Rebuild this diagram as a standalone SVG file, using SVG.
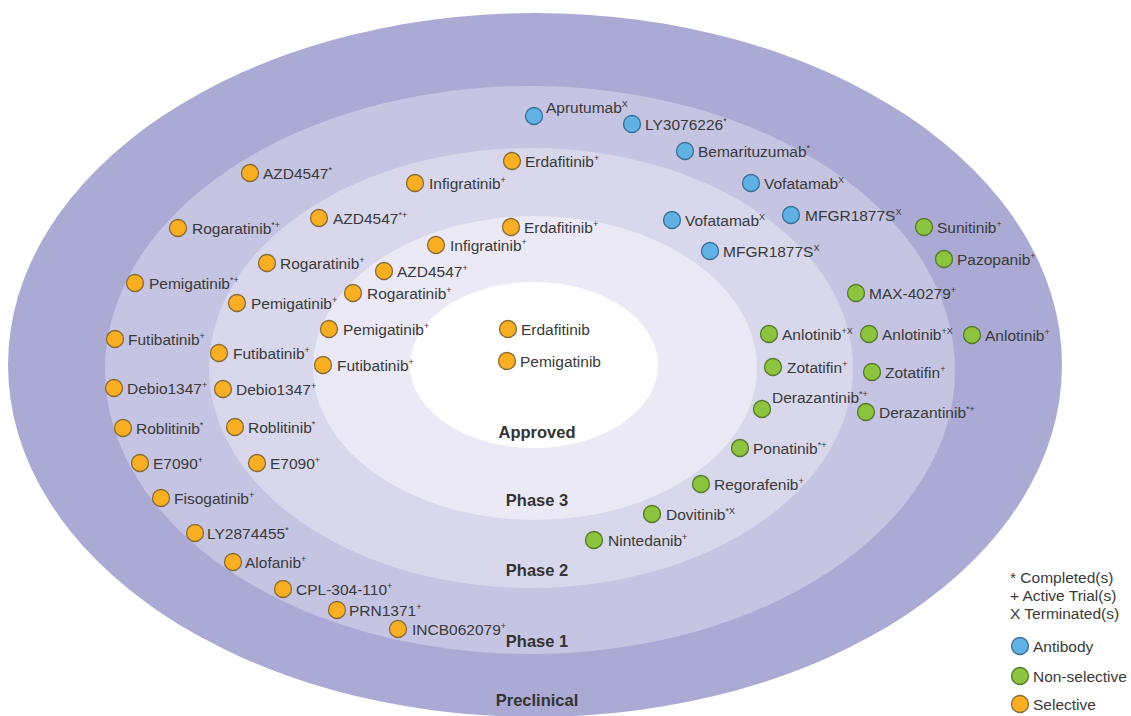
<svg xmlns="http://www.w3.org/2000/svg" width="1131" height="716" viewBox="0 0 1131 716">
  <style>
    text { font-family: "Liberation Sans", Arial, sans-serif; fill: #3a3a3a; }
    .lbl { font-size: 15.5px; }
    .sup { font-size: 9px; }
    .phase { font-size: 16.5px; font-weight: bold; fill: #333; text-anchor: middle; }
    .ab circle { fill: #5fb2e3; stroke: #3d6f98; stroke-width: 1.3; }
    .ns circle { fill: #8cc43f; stroke: #557a2b; stroke-width: 1.3; }
    .se circle { fill: #f9af24; stroke: #8a6b35; stroke-width: 1.3; }
  </style>

  <!-- Concentric development stages -->
  <g id="stages">
    <ellipse id="stage-preclinical" cx="535" cy="365" rx="527" ry="352" fill="#abaad5"/>
    <ellipse id="stage-phase1" cx="530" cy="370" rx="425" ry="284" fill="#c5c4e2"/>
    <ellipse id="stage-phase2" cx="531" cy="368" rx="322" ry="220" fill="#d8d7ec"/>
    <ellipse id="stage-phase3" cx="535" cy="368" rx="222" ry="152" fill="#eae9f5"/>
    <ellipse id="stage-approved" cx="534" cy="365" rx="124" ry="83" fill="#ffffff"/>
  </g>

  <!-- Stage labels -->
  <g id="stage-labels">
    <text class="phase" x="537" y="438">Approved</text>
    <text class="phase" x="537" y="506">Phase 3</text>
    <text class="phase" x="537" y="576">Phase 2</text>
    <text class="phase" x="537" y="647">Phase 1</text>
    <text class="phase" x="537" y="706">Preclinical</text>
  </g>

  <!-- Approved -->
  <g id="n-erdafitinib-approved" class="se"><circle cx="508" cy="329" r="8.5"/><text class="lbl" x="521" y="335">Erdafitinib</text></g>
  <g id="n-pemigatinib-approved" class="se"><circle cx="507" cy="361" r="8.5"/><text class="lbl" x="520" y="367">Pemigatinib</text></g>

  <!-- Phase 3 -->
  <g id="n-erdafitinib-p3" class="se"><circle cx="511" cy="227" r="8.5"/><text class="lbl" x="524" y="233">Erdafitinib<tspan class="sup" dy="-6">+</tspan></text></g>
  <g id="n-infigratinib-p3" class="se"><circle cx="436" cy="245" r="8.5"/><text class="lbl" x="450" y="251">Infigratinib<tspan class="sup" dy="-6">+</tspan></text></g>
  <g id="n-azd4547-p3" class="se"><circle cx="384" cy="271" r="8.5"/><text class="lbl" x="397" y="277">AZD4547<tspan class="sup" dy="-6">+</tspan></text></g>
  <g id="n-rogaratinib-p3" class="se"><circle cx="353" cy="293" r="8.5"/><text class="lbl" x="367" y="299">Rogaratinib<tspan class="sup" dy="-6">+</tspan></text></g>
  <g id="n-pemigatinib-p3" class="se"><circle cx="329" cy="329" r="8.5"/><text class="lbl" x="343" y="335">Pemigatinib<tspan class="sup" dy="-6">+</tspan></text></g>
  <g id="n-futibatinib-p3" class="se"><circle cx="323" cy="365" r="8.5"/><text class="lbl" x="337" y="371">Futibatinib<tspan class="sup" dy="-6">+</tspan></text></g>
  <g id="n-vofatamab-p3" class="ab"><circle cx="672" cy="220" r="8.5"/><text class="lbl" x="685" y="226">Vofatamab<tspan class="sup" dy="-6">X</tspan></text></g>
  <g id="n-mfgr1877s-p3" class="ab"><circle cx="710" cy="251" r="8.5"/><text class="lbl" x="723" y="257">MFGR1877S<tspan class="sup" dy="-6">X</tspan></text></g>
  <g id="n-anlotinib-p3" class="ns"><circle cx="769" cy="334" r="8.5"/><text class="lbl" x="782" y="340">Anlotinib<tspan class="sup" dy="-6">+X</tspan></text></g>
  <g id="n-zotatifin-p3" class="ns"><circle cx="773" cy="367" r="8.5"/><text class="lbl" x="787" y="373">Zotatifin<tspan class="sup" dy="-6">+</tspan></text></g>
  <g id="n-derazantinib-p3" class="ns"><circle cx="762" cy="409" r="8.5"/><text class="lbl" x="772" y="403">Derazantinib<tspan class="sup" dy="-6">*+</tspan></text></g>
  <g id="n-ponatinib-p3" class="ns"><circle cx="740" cy="448" r="8.5"/><text class="lbl" x="753" y="454">Ponatinib<tspan class="sup" dy="-6">*+</tspan></text></g>
  <g id="n-regorafenib-p3" class="ns"><circle cx="701" cy="484" r="8.5"/><text class="lbl" x="714" y="490">Regorafenib<tspan class="sup" dy="-6">+</tspan></text></g>
  <g id="n-dovitinib-p3" class="ns"><circle cx="652" cy="514" r="8.5"/><text class="lbl" x="666" y="520">Dovitinib<tspan class="sup" dy="-6">*X</tspan></text></g>
  <g id="n-nintedanib-p3" class="ns"><circle cx="594" cy="540" r="8.5"/><text class="lbl" x="608" y="546">Nintedanib<tspan class="sup" dy="-6">+</tspan></text></g>

  <!-- Phase 2 -->
  <g id="n-erdafitinib-p2" class="se"><circle cx="512" cy="161" r="8.5"/><text class="lbl" x="525" y="167">Erdafitinib<tspan class="sup" dy="-6">+</tspan></text></g>
  <g id="n-infigratinib-p2" class="se"><circle cx="415" cy="183" r="8.5"/><text class="lbl" x="429" y="189">Infigratinib<tspan class="sup" dy="-6">+</tspan></text></g>
  <g id="n-azd4547-p2" class="se"><circle cx="319" cy="218" r="8.5"/><text class="lbl" x="333" y="224">AZD4547<tspan class="sup" dy="-6">*+</tspan></text></g>
  <g id="n-rogaratinib-p2" class="se"><circle cx="267" cy="263" r="8.5"/><text class="lbl" x="280" y="269">Rogaratinib<tspan class="sup" dy="-6">+</tspan></text></g>
  <g id="n-pemigatinib-p2" class="se"><circle cx="237" cy="303" r="8.5"/><text class="lbl" x="251" y="309">Pemigatinib<tspan class="sup" dy="-6">+</tspan></text></g>
  <g id="n-futibatinib-p2" class="se"><circle cx="219" cy="353" r="8.5"/><text class="lbl" x="233" y="359">Futibatinib<tspan class="sup" dy="-6">+</tspan></text></g>
  <g id="n-debio1347-p2" class="se"><circle cx="223" cy="389" r="8.5"/><text class="lbl" x="236" y="395">Debio1347<tspan class="sup" dy="-6">+</tspan></text></g>
  <g id="n-roblitinib-p2" class="se"><circle cx="235" cy="427" r="8.5"/><text class="lbl" x="248" y="433">Roblitinib<tspan class="sup" dy="-6">*</tspan></text></g>
  <g id="n-e7090-p2" class="se"><circle cx="257" cy="463" r="8.5"/><text class="lbl" x="270" y="469">E7090<tspan class="sup" dy="-6">+</tspan></text></g>
  <g id="n-bemarituzumab-p2" class="ab"><circle cx="685" cy="151" r="8.5"/><text class="lbl" x="698" y="157">Bemarituzumab<tspan class="sup" dy="-6">*</tspan></text></g>
  <g id="n-vofatamab-p2" class="ab"><circle cx="751" cy="183" r="8.5"/><text class="lbl" x="764" y="189">Vofatamab<tspan class="sup" dy="-6">X</tspan></text></g>
  <g id="n-mfgr1877s-p2" class="ab"><circle cx="791" cy="215" r="8.5"/><text class="lbl" x="805" y="221">MFGR1877S<tspan class="sup" dy="-6">X</tspan></text></g>
  <g id="n-anlotinib-p2" class="ns"><circle cx="869" cy="334" r="8.5"/><text class="lbl" x="882" y="340">Anlotinib<tspan class="sup" dy="-6">+X</tspan></text></g>
  <g id="n-zotatifin-p2" class="ns"><circle cx="872" cy="372" r="8.5"/><text class="lbl" x="885" y="378">Zotatifin<tspan class="sup" dy="-6">+</tspan></text></g>
  <g id="n-derazantinib-p2" class="ns"><circle cx="866" cy="412" r="8.5"/><text class="lbl" x="879" y="418">Derazantinib<tspan class="sup" dy="-6">*+</tspan></text></g>

  <!-- Phase 1 -->
  <g id="n-aprutumab-p1" class="ab"><circle cx="534" cy="116" r="8.5"/><text class="lbl" x="546" y="113">Aprutumab<tspan class="sup" dy="-6">X</tspan></text></g>
  <g id="n-ly3076226-p1" class="ab"><circle cx="632" cy="124" r="8.5"/><text class="lbl" x="645" y="130">LY3076226<tspan class="sup" dy="-6">*</tspan></text></g>
  <g id="n-max40279-p1" class="ns"><circle cx="856" cy="293" r="8.5"/><text class="lbl" x="869" y="299">MAX-40279<tspan class="sup" dy="-6">+</tspan></text></g>
  <g id="n-azd4547-p1" class="se"><circle cx="250" cy="173" r="8.5"/><text class="lbl" x="263" y="179">AZD4547<tspan class="sup" dy="-6">*</tspan></text></g>
  <g id="n-rogaratinib-p1" class="se"><circle cx="178" cy="228" r="8.5"/><text class="lbl" x="192" y="234">Rogaratinib<tspan class="sup" dy="-6">*+</tspan></text></g>
  <g id="n-pemigatinib-p1" class="se"><circle cx="135" cy="283" r="8.5"/><text class="lbl" x="149" y="289">Pemigatinib<tspan class="sup" dy="-6">*+</tspan></text></g>
  <g id="n-futibatinib-p1" class="se"><circle cx="115" cy="339" r="8.5"/><text class="lbl" x="128" y="345">Futibatinib<tspan class="sup" dy="-6">+</tspan></text></g>
  <g id="n-debio1347-p1" class="se"><circle cx="114" cy="388" r="8.5"/><text class="lbl" x="127" y="394">Debio1347<tspan class="sup" dy="-6">+</tspan></text></g>
  <g id="n-roblitinib-p1" class="se"><circle cx="123" cy="428" r="8.5"/><text class="lbl" x="136" y="434">Roblitinib<tspan class="sup" dy="-6">*</tspan></text></g>
  <g id="n-e7090-p1" class="se"><circle cx="140" cy="463" r="8.5"/><text class="lbl" x="153" y="469">E7090<tspan class="sup" dy="-6">+</tspan></text></g>
  <g id="n-fisogatinib-p1" class="se"><circle cx="161" cy="498" r="8.5"/><text class="lbl" x="174" y="504">Fisogatinib<tspan class="sup" dy="-6">+</tspan></text></g>
  <g id="n-ly2874455-p1" class="se"><circle cx="195" cy="533" r="8.5"/><text class="lbl" x="207" y="539">LY2874455<tspan class="sup" dy="-6">*</tspan></text></g>
  <g id="n-alofanib-p1" class="se"><circle cx="233" cy="562" r="8.5"/><text class="lbl" x="245" y="568">Alofanib<tspan class="sup" dy="-6">+</tspan></text></g>
  <g id="n-cpl304110-p1" class="se"><circle cx="283" cy="589" r="8.5"/><text class="lbl" x="296" y="595">CPL-304-110<tspan class="sup" dy="-6">+</tspan></text></g>
  <g id="n-prn1371-p1" class="se"><circle cx="337" cy="610" r="8.5"/><text class="lbl" x="349" y="616">PRN1371<tspan class="sup" dy="-6">+</tspan></text></g>
  <g id="n-incb062079-p1" class="se"><circle cx="398" cy="629" r="8.5"/><text class="lbl" x="412" y="635">INCB062079<tspan class="sup" dy="-6">+</tspan></text></g>

  <!-- Preclinical -->
  <g id="n-sunitinib-pre" class="ns"><circle cx="924" cy="227" r="8.5"/><text class="lbl" x="937" y="233">Sunitinib<tspan class="sup" dy="-6">+</tspan></text></g>
  <g id="n-pazopanib-pre" class="ns"><circle cx="944" cy="259" r="8.5"/><text class="lbl" x="957" y="265">Pazopanib<tspan class="sup" dy="-6">+</tspan></text></g>
  <g id="n-anlotinib-pre" class="ns"><circle cx="972" cy="335" r="8.5"/><text class="lbl" x="985" y="341">Anlotinib<tspan class="sup" dy="-6">+</tspan></text></g>

  <!-- Legend -->
  <g id="legend">
    <text class="lbl" x="1010" y="583">* Completed(s)</text>
    <text class="lbl" x="1010" y="601">+ Active Trial(s)</text>
    <text class="lbl" x="1010" y="619">X Terminated(s)</text>
    <g id="legend-antibody" class="ab"><circle cx="1020" cy="646" r="8.5"/><text class="lbl" x="1033" y="652">Antibody</text></g>
    <g id="legend-nonselective" class="ns"><circle cx="1020" cy="676" r="8.5"/><text class="lbl" x="1033" y="682">Non-selective</text></g>
    <g id="legend-selective" class="se"><circle cx="1020" cy="704" r="8.5"/><text class="lbl" x="1033" y="710">Selective</text></g>
  </g>
</svg>
